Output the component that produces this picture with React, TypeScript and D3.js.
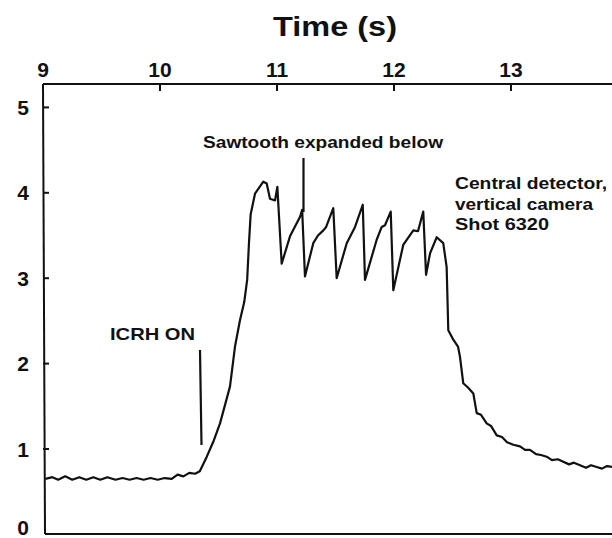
import React from "react";
import * as d3 from "d3";

const timeS = [
  9.02, 9.08, 9.13, 9.19, 9.25, 9.31, 9.37, 9.43, 9.49, 9.55, 9.62, 9.68, 9.74, 9.8, 9.86, 9.92, 9.98, 10.04,
  10.1, 10.15, 10.2, 10.25, 10.3, 10.34,
  10.4, 10.46, 10.513, 10.598, 10.641, 10.684, 10.72, 10.745, 10.76, 10.775, 10.812, 10.883, 10.912, 10.94, 10.983,
  11.003, 11.04, 11.111, 11.197, 11.215, 11.239,
  11.31, 11.35, 11.396, 11.42, 11.481, 11.51,
  11.596, 11.667, 11.733, 11.752,
  11.852, 11.895, 11.923, 11.972, 11.994,
  12.079, 12.165, 12.205, 12.25, 12.274,
  12.308, 12.365, 12.421, 12.45, 12.464,
  12.507, 12.547, 12.564, 12.592, 12.632, 12.678, 12.707, 12.744, 12.792, 12.829, 12.878, 12.923, 12.966,
  13.02, 13.077, 13.12, 13.162, 13.214, 13.256, 13.305, 13.35, 13.4, 13.447, 13.496, 13.538, 13.59, 13.641,
  13.684, 13.732, 13.778, 13.82, 13.863,
];
const signal = [
  0.65, 0.67, 0.64, 0.68, 0.64, 0.67, 0.64, 0.67, 0.64, 0.67, 0.64, 0.66, 0.64, 0.66, 0.64, 0.66, 0.64, 0.66,
  0.65, 0.7, 0.68, 0.72, 0.71, 0.74,
  0.91, 1.1, 1.3, 1.73, 2.2, 2.51, 2.72, 2.98, 3.4, 3.75, 3.99, 4.13, 4.11, 3.93, 3.91,
  4.07, 3.17, 3.49, 3.72, 3.8, 3.02,
  3.41, 3.5, 3.56, 3.6, 3.82, 3.0,
  3.41, 3.6, 3.86, 2.98,
  3.45, 3.6, 3.62, 3.78, 2.86,
  3.39, 3.56, 3.55, 3.78, 3.04,
  3.29, 3.48, 3.41, 3.13, 2.39,
  2.28, 2.2, 2.08, 1.77, 1.72, 1.65, 1.42, 1.4, 1.3, 1.27, 1.16, 1.14, 1.08,
  1.05, 1.03, 0.99, 0.99, 0.94, 0.93, 0.91, 0.87, 0.88, 0.85, 0.82, 0.84, 0.81, 0.78,
  0.81, 0.79, 0.77, 0.8, 0.79,
];

const xTicks = [9, 10, 11, 12, 13];
const yTicks = [0, 1, 2, 3, 4, 5];

const FONT = "'Liberation Sans', Arial, Helvetica, sans-serif";

export default function App() {
  const W = 612;
  const H = 538;
  const x = d3.scaleLinear().domain([9, 14]).range([43, 628]);
  const y = d3.scaleLinear().domain([0, 5]).range([534.4, 107.4]);
  const pts: [number, number][] = timeS.map((t, i) => [t, signal[i]]);
  const line = d3
    .line<[number, number]>()
    .x((d) => x(d[0]))
    .y((d) => y(d[1]))
    .curve(d3.curveLinear);

  const left = 43;
  const top = 84;
  const bottom = 534;

  return (
    <svg
      width={W}
      height={H}
      style={{ position: "absolute", left: 0, top: 0, display: "block", background: "#fff" }}
    >
      <rect x={0} y={0} width={W} height={H} fill="#fff" />
      <text
        x={335}
        y={36}
        textAnchor="middle"
        fontFamily={FONT}
        fontWeight="bold"
        fontSize={28}
        textLength={124}
        lengthAdjust="spacingAndGlyphs"
        fill="#111"
      >
        Time (s)
      </text>
      {/* axes */}
      <line x1={left} y1={top} x2={W} y2={top} stroke="#111" strokeWidth={2} />
      <line x1={left} y1={top} x2={left + 2} y2={bottom} stroke="#111" strokeWidth={2} />
      <line x1={left + 2} y1={bottom} x2={W} y2={bottom} stroke="#111" strokeWidth={2} />
      {xTicks.map((t) => (
        <g key={"xt" + t}>
          {t > 9 && <line x1={x(t)} y1={top} x2={x(t)} y2={top + 7} stroke="#111" strokeWidth={2} />}
          <text
            x={x(t)}
            y={77}
            textAnchor="middle"
            fontFamily={FONT}
            fontWeight="bold"
            fontSize={21}
            fill="#111"
          >
            {t}
          </text>
        </g>
      ))}
      {yTicks.map((v) => (
        <g key={"yt" + v}>
          {v > 0 && <line x1={left} y1={y(v)} x2={left + 6} y2={y(v)} stroke="#111" strokeWidth={2} />}
          <text
            x={29}
            y={v === 0 ? 535 : y(v) + 7.5}
            textAnchor="end"
            fontFamily={FONT}
            fontWeight="bold"
            fontSize={21}
            fill="#111"
          >
            {v}
          </text>
        </g>
      ))}
      {/* signal */}
      <path d={line(pts) || ""} fill="none" stroke="#111" strokeWidth={2.2} strokeLinejoin="round" />
      {/* annotations */}
      <line x1={200} y1={350} x2={201.5} y2={445} stroke="#111" strokeWidth={2.2} />
      <text
        x={110}
        y={340}
        fontFamily={FONT}
        fontWeight="bold"
        fontSize={17}
        textLength={85}
        lengthAdjust="spacingAndGlyphs"
        fill="#111"
      >
        ICRH ON
      </text>
      <line x1={303.5} y1={158} x2={303.5} y2={212} stroke="#111" strokeWidth={2.2} />
      <text
        x={203}
        y={148}
        fontFamily={FONT}
        fontWeight="bold"
        fontSize={17}
        textLength={240}
        lengthAdjust="spacingAndGlyphs"
        fill="#111"
      >
        Sawtooth expanded below
      </text>
      <text x={455} y={189} fontFamily={FONT} fontWeight="bold" fontSize={16} textLength={152} lengthAdjust="spacingAndGlyphs" fill="#111">
        Central detector,
      </text>
      <text x={455} y={210} fontFamily={FONT} fontWeight="bold" fontSize={16} textLength={138} lengthAdjust="spacingAndGlyphs" fill="#111">
        vertical camera
      </text>
      <text x={455} y={230} fontFamily={FONT} fontWeight="bold" fontSize={16} textLength={94} lengthAdjust="spacingAndGlyphs" fill="#111">
        Shot 6320
      </text>
    </svg>
  );
}
